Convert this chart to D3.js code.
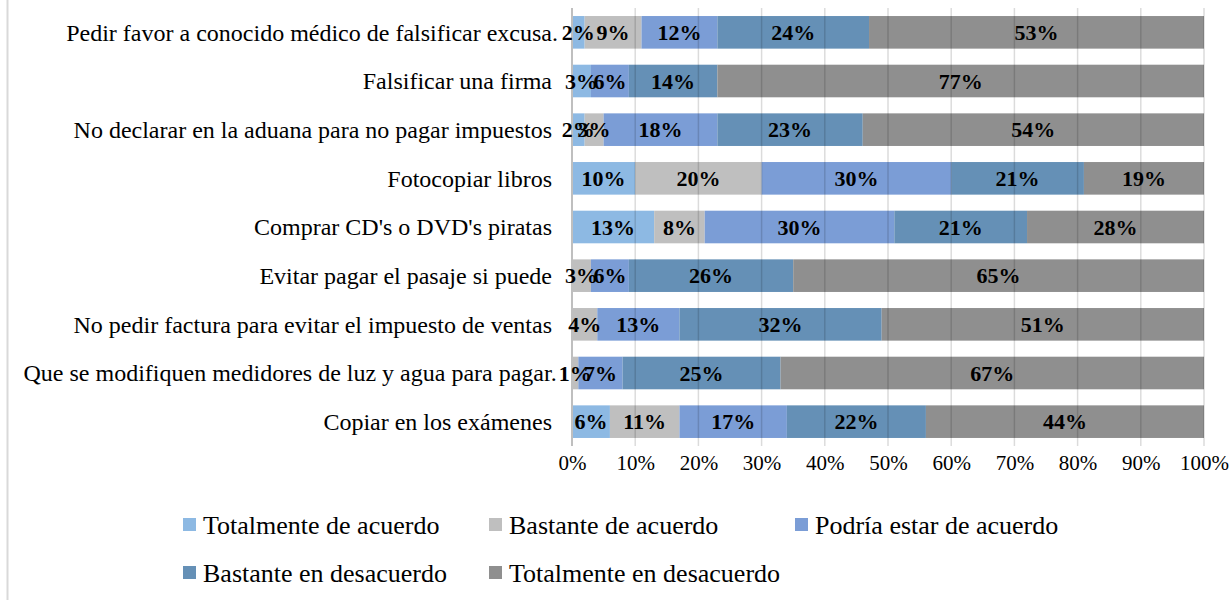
<!DOCTYPE html>
<html>
<head>
<meta charset="utf-8">
<script src="https://cdn.jsdelivr.net/npm/d3@7"></script>
<style>
  body { margin: 0; background: #fff; }
  svg text { font-family: "Liberation Serif", "Times New Roman", serif; fill: #000; }
</style>
</head>
<body>
<svg id="canvas"></svg>
<script>
var categories = [
  "Pedir favor a conocido médico de falsificar excusa.",
  "Falsificar una firma",
  "No declarar en la aduana para no pagar impuestos",
  "Fotocopiar libros",
  "Comprar CD's o DVD's piratas",
  "Evitar pagar el pasaje si puede",
  "No pedir factura para evitar el impuesto de ventas",
  "Que se modifiquen medidores de luz y agua para pagar.",
  "Copiar en los exámenes"
];
var seriesNames = [
  "Totalmente de acuerdo",
  "Bastante de acuerdo",
  "Podría estar de acuerdo",
  "Bastante en desacuerdo",
  "Totalmente en desacuerdo"
];
var colors = ["#8db9e3", "#bfbfbf", "#7b9dd6", "#6590b6", "#8f8f8f"];

// percentages per category, same order as seriesNames
var totalAcuerdo    = [2, 3, 2, 10, 13, 0, 0, 0, 6];
var bastanteAcuerdo = [9, 0, 3, 20, 8, 3, 4, 1, 11];
var podriaAcuerdo   = [12, 6, 18, 30, 30, 6, 13, 7, 17];
var bastanteDes     = [24, 14, 23, 21, 21, 26, 32, 25, 22];
var totalDes        = [53, 77, 54, 19, 28, 65, 51, 67, 44];
var xTicks = [0, 0.1, 0.2, 0.3, 0.4, 0.5, 0.6, 0.7, 0.8, 0.9, 1];

var W = 1231, H = 600;
var svg = d3.select('#canvas').attr('width', W).attr('height', H);

var seriesValues = [totalAcuerdo, bastanteAcuerdo, podriaAcuerdo, bastanteDes, totalDes];
var rows = categories.map(function (c, i) {
  var r = { cat: c };
  seriesNames.forEach(function (s, j) { r[s] = seriesValues[j][i] / 100; });
  return r;
});

var x = d3.scaleLinear().domain([0, 1]).range([572, 1204]);
var y = d3.scaleBand().domain(categories).range([8, 446]).paddingInner(0.33).paddingOuter(0.165);
var color = d3.scaleOrdinal().domain(seriesNames).range(colors);

// frame edge on the left
svg.append('line')
  .attr('x1', 7.5).attr('x2', 7.5).attr('y1', 0).attr('y2', H)
  .attr('stroke', '#d9d9d9').attr('stroke-width', 2);

var stacked = d3.stack().keys(seriesNames)(rows);

svg.append('g').selectAll('g')
  .data(stacked)
  .join('g')
  .attr('fill', function (d) { return color(d.key); })
  .selectAll('rect')
  .data(function (d) { return d; })
  .join('rect')
  .attr('x', function (d) { return x(d[0]); })
  .attr('y', function (d) { return y(d.data.cat); })
  .attr('width', function (d) { return x(d[1]) - x(d[0]); })
  .attr('height', y.bandwidth());

// gridlines
svg.append('g').selectAll('line')
  .data(xTicks.slice(1))
  .join('line')
  .attr('x1', function (d) { return x(d); })
  .attr('x2', function (d) { return x(d); })
  .attr('y1', 8).attr('y2', 446)
  .attr('stroke', '#000').attr('stroke-opacity', 0.14).attr('stroke-width', 1.5);

// axis line at 0%
svg.append('line')
  .attr('x1', x(0)).attr('x2', x(0)).attr('y1', 8).attr('y2', 446)
  .attr('stroke', '#bfbfbf').attr('stroke-width', 2);

// value labels, drawn after all bars so none get covered
var allPieces = [];
stacked.forEach(function (s) { s.forEach(function (p) { allPieces.push(p); }); });
svg.append('g').selectAll('text')
  .data(allPieces.filter(function (p) { return p[1] - p[0] > 0.001; }))
  .join('text')
  .attr('x', function (d) { return (x(d[0]) + x(d[1])) / 2; })
  .attr('y', function (d) { return y(d.data.cat) + y.bandwidth() / 2; })
  .attr('dy', '0.35em')
  .attr('text-anchor', 'middle')
  .style('font-size', '22px')
  .style('font-weight', 'bold')
  .text(function (d) { return Math.round((d[1] - d[0]) * 100) + '%'; });

// category labels, a trailing period hangs past the edge
var catText = svg.append('g').selectAll('text')
  .data(categories)
  .join('text')
  .attr('y', function (d) { return y(d) + y.bandwidth() / 2; })
  .attr('dy', '0.35em')
  .style('font-size', '24px');
catText.each(function (d) {
  var t = d3.select(this);
  var hang = d.slice(-1) == '.';
  var main = t.append('tspan').text(hang ? d.slice(0, -1) : d);
  var w = main.node().getComputedTextLength();
  t.attr('x', 552 - w);
  if (hang) t.append('tspan').text('.');
});

// x axis labels
var xAxis = d3.axisBottom(x).tickValues(xTicks).tickSize(0).tickPadding(0).tickFormat(d3.format('.0%'));
var ax = svg.append('g').attr('transform', 'translate(0,455)').call(xAxis);
ax.select('.domain').remove();
ax.selectAll('text')
  .style('font-family', '"Liberation Serif", "Times New Roman", serif')
  .style('font-size', '21px')
  .attr('fill', '#000');

// legend
var leg = svg.append('g').selectAll('g')
  .data(seriesNames)
  .join('g')
  .attr('transform', function (d, i) {
    return 'translate(' + (183 + (i % 3) * 306) + ',' + (525 + Math.floor(i / 3) * 48) + ')';
  });
leg.append('rect')
  .attr('x', 0).attr('y', -7).attr('width', 13).attr('height', 13)
  .attr('fill', function (d) { return color(d); });
leg.append('text')
  .attr('x', 20).attr('dy', '0.35em')
  .style('font-size', '26px')
  .text(function (d) { return d; });
</script>
</body>
</html>
